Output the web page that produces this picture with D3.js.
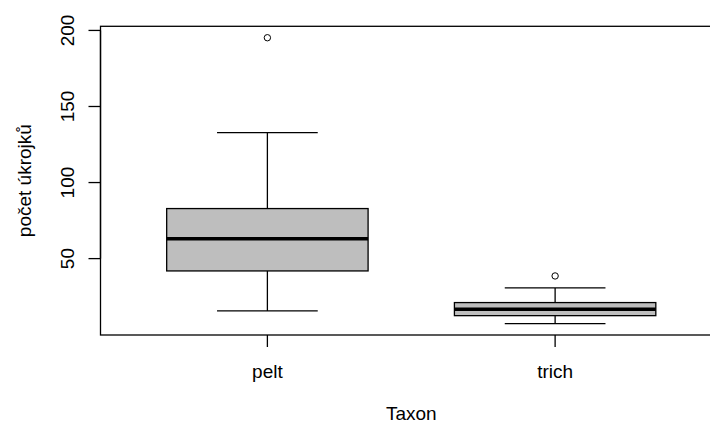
<!DOCTYPE html>
<html>
<head>
<meta charset="utf-8">
<script src="https://cdn.jsdelivr.net/npm/d3@7"></script>
<style>
  html, body { margin: 0; padding: 0; background: #fff; }
  svg { display: block; }
  text { font-family: "Liberation Sans", Arial, sans-serif; fill: #000; }
</style>
</head>
<body>
<svg id="chart" width="710" height="424"></svg>
<script>
// Box statistics per taxon
const taxa = ["pelt", "trich"];
const lowerWhisker = [15.6, 7.3];
const q1 = [41.9, 12.5];
const median = [63.1, 16.7];
const q3 = [82.9, 21.1];
const upperWhisker = [132.8, 30.7];
const outliers = [[195.2], [38.6]];
const yTicks = [50, 100, 150, 200];

const svg = d3.select("#chart");
const plot = { left: 100.5, right: 722, top: 26.3, bottom: 335 };
const fontSize = 19;

// y range padded by 4% on each side
const allVals = lowerWhisker.concat(upperWhisker, outliers.flat());
const yMin = d3.min(allVals), yMax = d3.max(allVals);
const pad = (yMax - yMin) * 0.04;
const y = d3.scaleLinear().domain([yMin - pad, yMax + pad]).range([plot.bottom, plot.top]);

// boxes sit at positions 1..n
const x = d3.scaleLinear().domain([0.42, taxa.length + 0.58]).range([plot.left, plot.right]);
const boxHalf = 0.35, capHalf = 0.175;

const g = svg.append("g");

taxa.forEach((t, i) => {
  const cx = x(i + 1);
  const lw = 1.3;
  // whiskers
  g.append("line").attr("x1", cx).attr("x2", cx).attr("y1", y(q3[i])).attr("y2", y(upperWhisker[i]))
    .attr("stroke", "#000").attr("stroke-width", lw);
  g.append("line").attr("x1", cx).attr("x2", cx).attr("y1", y(q1[i])).attr("y2", y(lowerWhisker[i]))
    .attr("stroke", "#000").attr("stroke-width", lw);
  // caps
  [upperWhisker[i], lowerWhisker[i]].forEach(v => {
    g.append("line").attr("x1", x(i + 1 - capHalf)).attr("x2", x(i + 1 + capHalf))
      .attr("y1", y(v)).attr("y2", y(v)).attr("stroke", "#000").attr("stroke-width", lw);
  });
  // box
  g.append("rect")
    .attr("x", x(i + 1 - boxHalf)).attr("width", x(i + 1 + boxHalf) - x(i + 1 - boxHalf))
    .attr("y", y(q3[i])).attr("height", y(q1[i]) - y(q3[i]))
    .attr("fill", "#bebebe").attr("stroke", "#000").attr("stroke-width", lw);
  // median
  g.append("line").attr("x1", x(i + 1 - boxHalf)).attr("x2", x(i + 1 + boxHalf))
    .attr("y1", y(median[i])).attr("y2", y(median[i]))
    .attr("stroke", "#000").attr("stroke-width", 3.5);
  // outliers
  outliers[i].forEach(v => {
    g.append("circle").attr("cx", cx).attr("cy", y(v)).attr("r", 3.2)
      .attr("fill", "none").attr("stroke", "#000").attr("stroke-width", 1);
  });
});

// frame
svg.append("rect")
  .attr("x", plot.left).attr("y", plot.top)
  .attr("width", plot.right - plot.left).attr("height", plot.bottom - plot.top)
  .attr("fill", "none").attr("stroke", "#000").attr("stroke-width", 1.3);

// y axis ticks and rotated labels
yTicks.forEach(v => {
  svg.append("line").attr("x1", plot.left - 12).attr("x2", plot.left)
    .attr("y1", y(v)).attr("y2", y(v)).attr("stroke", "#000").attr("stroke-width", 1.3);
  svg.append("text")
    .attr("transform", `translate(74,${y(v)}) rotate(-90)`)
    .attr("text-anchor", "middle")
    .style("font-size", fontSize + "px")
    .text(v);
});
svg.append("line").attr("x1", plot.left).attr("x2", plot.left)
  .attr("y1", y(yTicks[0])).attr("y2", y(yTicks[yTicks.length - 1]))
  .attr("stroke", "#000").attr("stroke-width", 1.3);

// x axis ticks and labels
taxa.forEach((t, i) => {
  const cx = x(i + 1);
  svg.append("line").attr("x1", cx).attr("x2", cx)
    .attr("y1", plot.bottom).attr("y2", plot.bottom + 12)
    .attr("stroke", "#000").attr("stroke-width", 1.3);
  svg.append("text")
    .attr("x", cx).attr("y", 378)
    .attr("text-anchor", "middle")
    .style("font-size", fontSize + "px")
    .text(t);
});

// axis titles
svg.append("text")
  .attr("x", (plot.left + plot.right) / 2).attr("y", 420)
  .attr("text-anchor", "middle")
  .style("font-size", fontSize + "px")
  .text("Taxon");
svg.append("text")
  .attr("transform", `translate(31,${(plot.top + plot.bottom) / 2}) rotate(-90)`)
  .attr("text-anchor", "middle")
  .style("font-size", fontSize + "px")
  .text("počet úkrojků");
</script>
</body>
</html>
